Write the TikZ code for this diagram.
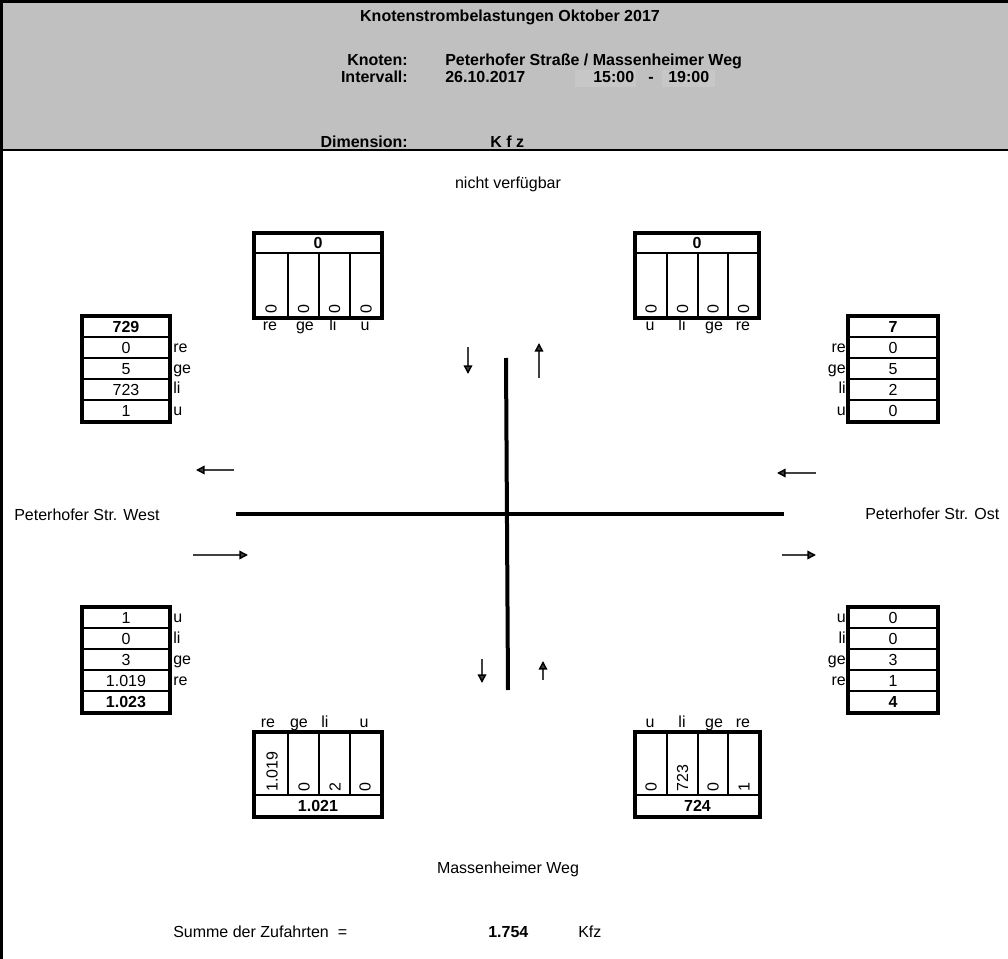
\documentclass[tikz,border=0pt]{standalone}
\usepackage{fontspec}
\setmainfont{Liberation Sans}
\usetikzlibrary{arrows.meta}

\definecolor{kopfgrau}{HTML}{C0C0C0}

\begin{document}
\begin{tikzpicture}[x=0.75pt,y=-0.75pt,>={Triangle[length=6.5pt,width=6.5pt,color=black]},
                    txt/.style={inner sep=0pt,text height=8.6pt,text depth=0pt,font=\fontsize{12}{14}\selectfont},
                    fett/.style={txt,font=\fontsize{12}{14}\selectfont\bfseries},
                    senk/.style={txt,rotate=90,anchor=west},
                    rahmen/.style={line width=2.6pt},
                    trenner/.style={line width=1.9pt},
                    duenn/.style={line width=1.2pt},
                    strasse/.style={line width=3pt},
                    pfeil/.style={->,line width=1.1pt,black!75}]
  \useasboundingbox (0,0) rectangle (1008,959);

  % Kopf
  \fill[kopfgrau] (0,0) rectangle (1008,150);
  \fill[black!22] (575,70) rectangle (636,87);
  \fill[black!22] (662,70) rectangle (715,87);
  \draw[line width=2.2pt] (0,1.5) -- (1008,1.5);
  \draw[line width=2.2pt] (0,150) -- (1008,150);
  \draw[line width=2.2pt] (1.5,0) -- (1.5,959);

  \node[fett]             (T)  at (510,16)  {Knotenstrombelastungen Oktober 2017};
  \node[fett,anchor=east] (K)  at (408,60)  {Knoten:};
  \node[fett,anchor=west] (KN) at (445,60)  {Peterhofer Straße / Massenheimer Weg};
  \node[fett,anchor=east] (I)  at (408,77)  {Intervall:};
  \node[fett,anchor=west] (ID) at (445,77)  {26.10.2017};
  \node[fett,anchor=west] (IA) at (593,77)  {15:00};
  \node[fett]             (IS) at (651,77)  {-};
  \node[fett,anchor=west] (IE) at (668,77)  {19:00};
  \node[fett,anchor=east] (D)  at (408,142) {Dimension:};
  \node[fett,anchor=west] (DK) at (490,142) {K f z};
  \node[txt]              (NV) at (508,183) {nicht verfügbar};

  % Nord links
  \draw[duenn] (288,253) -- (288,318) (319,253) -- (319,318) (350,253) -- (350,318);
  \draw[trenner] (254,253) -- (382,253);
  \draw[rahmen] (254,233) rectangle (382,318);
  \node[fett] (nls) at (318,243) {0};
  \node[senk] (nl1) at (271,314)   {0};
  \node[senk] (nl2) at (303.5,314) {0};
  \node[senk] (nl3) at (334.5,314) {0};
  \node[senk] (nl4) at (366,314)   {0};
  \node[txt] (nla) at (270,325) {re};
  \node[txt] (nlb) at (305,325) {ge};
  \node[txt] (nlc) at (333,325) {li};
  \node[txt] (nld) at (365,325) {u};

  % Nord rechts
  \draw[duenn] (667,253) -- (667,318) (698,253) -- (698,318) (728,253) -- (728,318);
  \draw[trenner] (635,253) -- (759,253);
  \draw[rahmen] (635,233) rectangle (759,318);
  \node[fett] (nrs) at (697,243) {0};
  \node[senk] (nr1) at (651,314)   {0};
  \node[senk] (nr2) at (682.5,314) {0};
  \node[senk] (nr3) at (713,314)   {0};
  \node[senk] (nr4) at (743.5,314) {0};
  \node[txt] (nra) at (650,325) {u};
  \node[txt] (nrb) at (682,325) {li};
  \node[txt] (nrc) at (714,325) {ge};
  \node[txt] (nrd) at (743,325) {re};

  % West oben
  \draw[duenn] (82,358) -- (170,358) (82,379) -- (170,379) (82,400) -- (170,400);
  \draw[trenner] (82,337) -- (170,337);
  \draw[rahmen] (82,316) rectangle (170,422);
  \node[fett] (wos) at (126,326.5) {729};
  \node[txt]  (wo1) at (126,347.5) {0};
  \node[txt]  (wo2) at (126,368.5) {5};
  \node[txt]  (wo3) at (126,389.5) {723};
  \node[txt]  (wo4) at (126,411)   {1};
  \node[txt,anchor=west] (woa) at (173,347) {re};
  \node[txt,anchor=west] (wob) at (173,368) {ge};
  \node[txt,anchor=west] (woc) at (173,388) {li};
  \node[txt,anchor=west] (wod) at (173,410) {u};

  % Ost oben
  \draw[duenn] (848,358) -- (938,358) (848,379) -- (938,379) (848,400) -- (938,400);
  \draw[trenner] (848,337) -- (938,337);
  \draw[rahmen] (848,316) rectangle (938,422);
  \node[fett] (oos) at (893,326.5) {7};
  \node[txt]  (oo1) at (893,347.5) {0};
  \node[txt]  (oo2) at (893,368.5) {5};
  \node[txt]  (oo3) at (893,389.5) {2};
  \node[txt]  (oo4) at (893,411)   {0};
  \node[txt,anchor=east] (ooa) at (846,347) {re};
  \node[txt,anchor=east] (oob) at (846,368) {ge};
  \node[txt,anchor=east] (ooc) at (846,388) {li};
  \node[txt,anchor=east] (ood) at (846,410) {u};

  % West unten
  \draw[duenn] (82,628) -- (170,628) (82,649) -- (170,649) (82,670) -- (170,670);
  \draw[trenner] (82,691) -- (170,691);
  \draw[rahmen] (82,607) rectangle (170,713);
  \node[txt]  (wu1) at (126,617.5) {1};
  \node[txt]  (wu2) at (126,638.5) {0};
  \node[txt]  (wu3) at (126,659.5) {3};
  \node[txt]  (wu4) at (126,680.5) {1.019};
  \node[fett] (wus) at (126,702)   {1.023};
  \node[txt,anchor=west] (wua) at (173,617) {u};
  \node[txt,anchor=west] (wub) at (173,638) {li};
  \node[txt,anchor=west] (wuc) at (173,659) {ge};
  \node[txt,anchor=west] (wud) at (173,680) {re};

  % Ost unten
  \draw[duenn] (848,628) -- (938,628) (848,649) -- (938,649) (848,670) -- (938,670);
  \draw[trenner] (848,691) -- (938,691);
  \draw[rahmen] (848,607) rectangle (938,713);
  \node[txt]  (ou1) at (893,617.5) {0};
  \node[txt]  (ou2) at (893,638.5) {0};
  \node[txt]  (ou3) at (893,659.5) {3};
  \node[txt]  (ou4) at (893,680.5) {1};
  \node[fett] (ous) at (893,702)   {4};
  \node[txt,anchor=east] (oua) at (846,617) {u};
  \node[txt,anchor=east] (oub) at (846,638) {li};
  \node[txt,anchor=east] (ouc) at (846,659) {ge};
  \node[txt,anchor=east] (oud) at (846,680) {re};

  % Sued links
  \draw[duenn] (288,732) -- (288,795) (319,732) -- (319,795) (350,732) -- (350,795);
  \draw[trenner] (254,795) -- (382,795);
  \draw[rahmen] (254,732) rectangle (382,817);
  \node[senk] (sl1) at (272,792)   {1.019};
  \node[senk] (sl2) at (304,792)   {0};
  \node[senk] (sl3) at (335,792)   {2};
  \node[senk] (sl4) at (365,792)   {0};
  \node[fett] (sls) at (318,806)   {1.021};
  \node[txt] (sla) at (268,722) {re};
  \node[txt] (slb) at (299,722) {ge};
  \node[txt] (slc) at (325,722) {li};
  \node[txt] (sld) at (364,722) {u};

  % Sued rechts
  \draw[duenn] (667,732) -- (667,795) (698,732) -- (698,795) (728,732) -- (728,795);
  \draw[trenner] (635,795) -- (760,795);
  \draw[rahmen] (635,732) rectangle (760,817);
  \node[senk] (sr1) at (651,792)   {0};
  \node[senk] (sr2) at (682.5,792) {723};
  \node[senk] (sr3) at (713,792)   {0};
  \node[senk] (sr4) at (744,792)   {1};
  \node[fett] (srs) at (697.5,806) {724};
  \node[txt] (sra) at (650,722) {u};
  \node[txt] (srb) at (682,722) {li};
  \node[txt] (src) at (714,722) {ge};
  \node[txt] (srd) at (743,722) {re};

  % Knoten
  \coordinate (RN) at (506,358);
  \coordinate (RS) at (508,690);
  \coordinate (RW) at (236,514);
  \coordinate (RO) at (784,514);
  \draw[strasse] (RN) -- (RS);
  \draw[strasse] (RW) -- (RO);

  \coordinate (N1) at (468,347); \coordinate (N2) at (468,374);
  \coordinate (N3) at (539,378); \coordinate (N4) at (539,343);
  \coordinate (S1) at (482,659); \coordinate (S2) at (482,683);
  \coordinate (S3) at (543,680); \coordinate (S4) at (543,661);
  \coordinate (W1) at (234,470); \coordinate (W2) at (196,470);
  \coordinate (W3) at (193,555); \coordinate (W4) at (248,555);
  \coordinate (O1) at (816,473); \coordinate (O2) at (777,473);
  \coordinate (O3) at (782,555); \coordinate (O4) at (816,555);
  \path[pfeil] (N1) edge (N2)
               (N3) edge (N4)
               (S1) edge (S2)
               (S3) edge (S4)
               (W1) edge (W2)
               (W3) edge (W4)
               (O1) edge (O2)
               (O3) edge (O4);

  \node[txt,anchor=west] (PW) at (14,515)  {Peterhofer Str. West};
  \node[txt,anchor=west] (PO) at (865,514) {Peterhofer Str. Ost};
  \node[txt]             (MW) at (508,868) {Massenheimer Weg};
  \node[txt,anchor=west] (SZ) at (173,932) {Summe der Zufahrten~~=};
  \node[fett,anchor=west] (SW) at (488,932) {1.754};
  \node[txt,anchor=west] (SK) at (578,932) {Kfz};
\end{tikzpicture}
\end{document}
